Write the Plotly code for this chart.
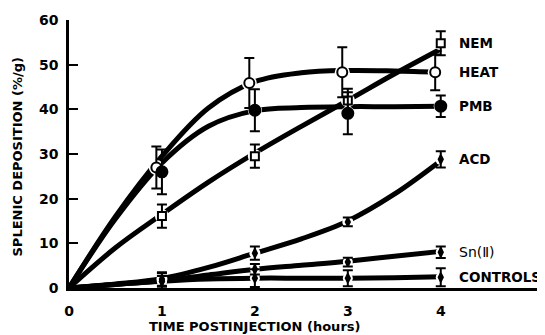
import plotly.graph_objects as go

# ---- data ----
time_pts = [1, 2, 3, 4]
curve_t = [0, 0.5, 1, 1.5, 2, 2.5, 3, 3.5, 4]

nem_mean = [16.1, 29.5, 42.0, 54.8]
nem_err = [2.6, 2.6, 2.6, 2.7]
nem_curve = [0, 9.0, 16.5, 23.7, 30.2, 36.2, 42.0, 47.9, 53.5]

heat_mean = [27.0, 45.9, 48.3, 48.3]
heat_err = [4.7, 5.6, 5.6, 4.0]
heat_curve = [0, 16.0, 29.5, 40.3, 46.2, 48.2, 48.7, 48.6, 48.3]

pmb_mean = [26.0, 39.8, 39.1, 40.7]
pmb_err = [5.0, 4.7, 4.7, 2.4]
pmb_curve = [0, 15.5, 28.0, 36.2, 39.7, 40.4, 40.6, 40.6, 40.7]

acd_mean = [2.0, 7.8, 14.8, 28.8]
acd_err = [1.5, 1.5, 1.0, 1.8]
acd_curve = [0, 0.9, 2.1, 4.6, 7.8, 11.0, 15.0, 21.0, 28.5]

sn_mean = [1.5, 4.2, 5.8, 8.0]
sn_err = [1.2, 1.2, 1.0, 1.3]
sn_curve = [0, 0.8, 1.6, 2.9, 4.2, 5.1, 6.0, 7.1, 8.2]

ctrl_mean = [1.5, 2.2, 2.2, 2.4]
ctrl_err = [1.8, 2.0, 1.8, 2.0]
ctrl_curve = [0, 0.8, 1.5, 2.0, 2.2, 2.2, 2.2, 2.3, 2.5]

series_names = ["NEM", "HEAT", "PMB", "ACD", "Sn(Ⅱ)", "CONTROLS"]
x_ticks = [0, 1, 2, 3, 4]
y_ticks = [0, 10, 20, 30, 40, 50, 60]

means = [nem_mean, heat_mean, pmb_mean, acd_mean, sn_mean, ctrl_mean]
errs = [nem_err, heat_err, pmb_err, acd_err, sn_err, ctrl_err]
curves = [nem_curve, heat_curve, pmb_curve, acd_curve, sn_curve, ctrl_curve]

# styles: symbol, fill, size, x nudge, gap size
styles = [
    ("square", "white", 8, 0.0, 14),
    ("circle", "white", 10, -0.06, 15),
    ("circle", "black", 11, 0.0, 14),
    ("diamond-tall", "black", 6, 0.0, 11),
    ("diamond-tall", "black", 6, 0.0, 10),
    ("diamond-tall", "black", 6, 0.0, 10),
]

FONT = "DejaVu Sans"
fig = go.Figure()

# fitted curves
for c in curves:
    fig.add_trace(go.Scatter(
        x=curve_t, y=c, mode="lines",
        line=dict(color="black", width=5, shape="spline", smoothing=1.0),
        hoverinfo="skip", showlegend=False))

# white gaps around the measured points
for m, (sym, fill, size, dx, gap) in zip(means, styles):
    fig.add_trace(go.Scatter(
        x=[t + dx for t in time_pts], y=m, mode="markers",
        marker=dict(symbol="circle", size=gap, color="white", line=dict(width=0)),
        hoverinfo="skip", showlegend=False))

# measured points with error bars
for name, m, e, (sym, fill, size, dx, gap) in zip(series_names, means, errs, styles):
    fig.add_trace(go.Scatter(
        x=[t + dx for t in time_pts], y=m, mode="markers", name=name,
        marker=dict(symbol=sym, size=size, color=fill, line=dict(color="black", width=2)),
        error_y=dict(type="data", array=e, visible=True, color="black", thickness=2, width=5),
        showlegend=False))

# series labels at the right
for name, m in zip(series_names, means):
    is_sn = name.startswith("Sn")
    fig.add_annotation(x=4.17, y=m[-1], xref="x", yref="y", text=name, showarrow=False,
                       xanchor="left", yanchor="middle",
                       font=dict(family=FONT, size=14 if is_sn else 13.5, color="black",
                                 weight="normal" if is_sn else "bold"))

fig.add_annotation(x=2.0, y=-0.145, xref="x", yref="paper", text="TIME POSTINJECTION (hours)",
                   showarrow=False, xanchor="center", yanchor="middle",
                   font=dict(family=FONT, size=13, color="black", weight="bold"))
fig.add_annotation(x=-0.108, y=0.49, xref="paper", yref="paper", text="SPLENIC DEPOSITION (%/g)",
                   showarrow=False, xanchor="center", yanchor="middle", textangle=-90,
                   font=dict(family=FONT, size=13, color="black", weight="bold"))

fig.update_layout(
    width=537, height=327,
    margin=dict(l=61, r=2, t=12, b=47),
    paper_bgcolor="white", plot_bgcolor="white",
    showlegend=False,
    xaxis=dict(range=[0, 5.1], tickvals=x_ticks, ticks="", showline=True, linecolor="black",
               linewidth=2.5, showgrid=False, zeroline=False, ticklabelstandoff=8,
               tickfont=dict(family=FONT, size=14, color="black", weight="bold")),
    yaxis=dict(range=[0, 60], tickvals=y_ticks, ticks="inside", ticklen=9, tickwidth=2,
               tickcolor="black", showline=True, linecolor="black", linewidth=2.5,
               showgrid=False, zeroline=False, ticklabelstandoff=5,
               tickfont=dict(family=FONT, size=14, color="black", weight="bold")),
)

fig.write_html("out.html")
